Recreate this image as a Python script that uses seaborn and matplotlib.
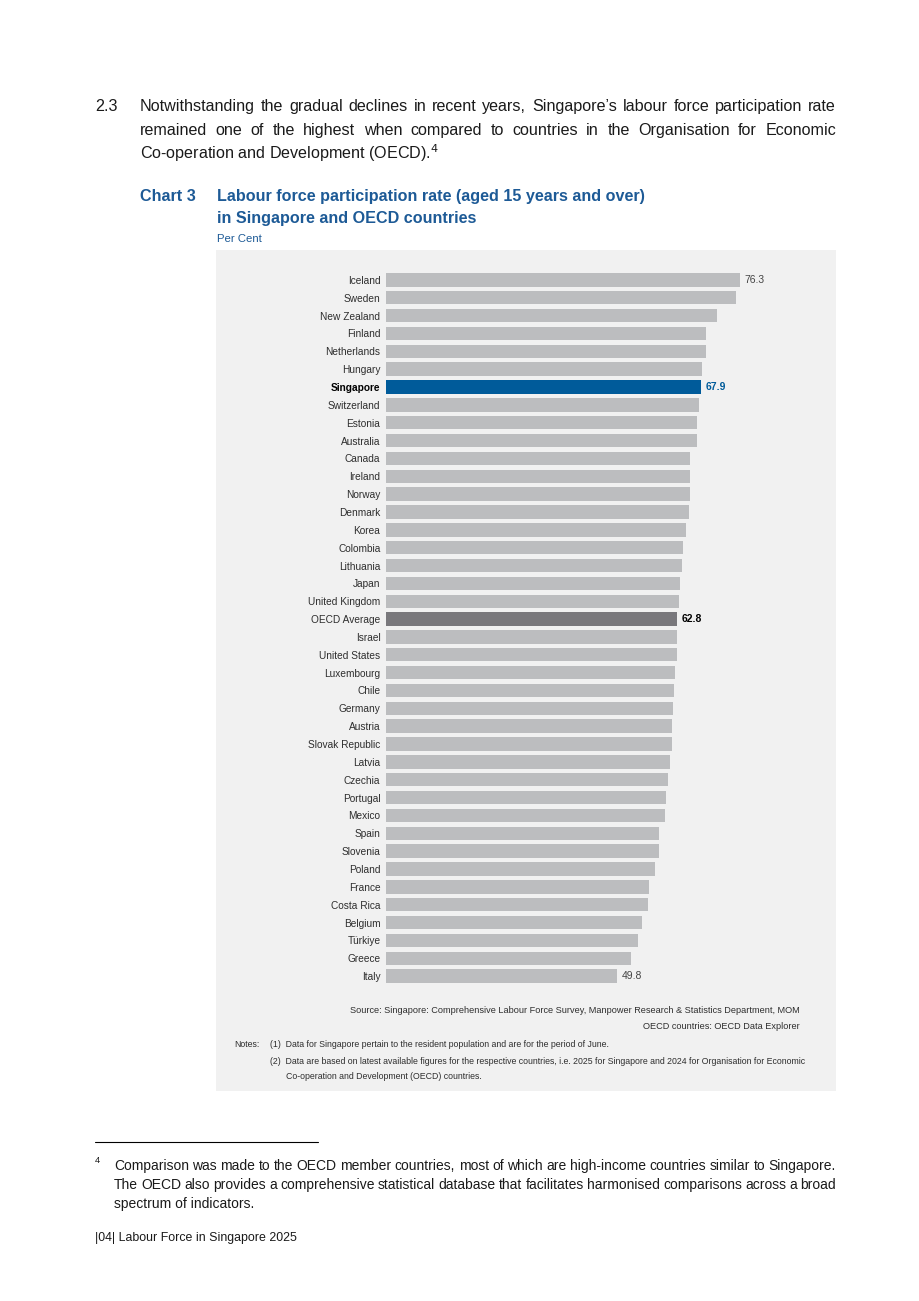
import matplotlib
matplotlib.use("Agg")
import matplotlib.pyplot as plt
import seaborn as sns
import pandas as pd
from matplotlib.patches import Rectangle
from matplotlib.lines import Line2D

# ========== DATA ==========
countries = [
    "Iceland", "Sweden", "New Zealand", "Finland", "Netherlands", "Hungary",
    "Singapore", "Switzerland", "Estonia", "Australia", "Canada", "Ireland",
    "Norway", "Denmark", "Korea", "Colombia", "Lithuania", "Japan",
    "United Kingdom", "OECD Average", "Israel", "United States", "Luxembourg",
    "Chile", "Germany", "Austria", "Slovak Republic", "Latvia", "Czechia",
    "Portugal", "Mexico", "Spain", "Slovenia", "Poland", "France",
    "Costa Rica", "Belgium", "Türkiye", "Greece", "Italy",
]
rates = [
    76.3, 75.4, 71.4, 69.0, 69.0, 68.1,
    67.9, 67.5, 67.0, 67.0, 65.6, 65.6,
    65.6, 65.3, 64.6, 64.0, 63.8, 63.4,
    63.2, 62.8, 62.7, 62.7, 62.4,
    62.1, 61.9, 61.6, 61.6, 61.2, 60.7,
    60.3, 60.2, 58.9, 58.8, 58.0, 56.7,
    56.6, 55.2, 54.3, 52.8, 49.8,
]
labelled = {"Iceland": "76.3", "Singapore": "67.9", "OECD Average": "62.8", "Italy": "49.8"}

GREY = "#bcbdbf"
BLUE = "#005b9a"
DARK = "#79787c"
TITLE_BLUE = "#1d5a96"
PANEL = "#f1f1f1"
TEXT = "#1a1a1a"
CHART_TEXT = "#2e2e2e"

df = pd.DataFrame({"country": countries, "rate": rates})
df["group"] = df["country"].map(
    lambda c: "sg" if c == "Singapore" else ("oecd" if c == "OECD Average" else "other"))

W, H = 920, 1301
sns.set_style("white")
plt.rcParams["font.family"] = ["Liberation Sans", "DejaVu Sans"]

fig = plt.figure(figsize=(W / 100, H / 100), dpi=100)
fig.patch.set_facecolor("white")


def px(x, y):
    return x / W, 1 - y / H


# grey panel behind the chart
fig.patches.append(Rectangle(px(216, 1091), 620 / W, 841 / H, transform=fig.transFigure,
                             facecolor=PANEL, edgecolor="none", zorder=-5))

# ========== BAR CHART ==========
scale = 4.643  # px per percentage point
x0, x1 = 385.7, 820
top, bottom = 271, 985
ax = fig.add_axes([x0 / W, 1 - bottom / H, (x1 - x0) / W, (bottom - top) / H])
ax.set_facecolor("none")
sns.barplot(data=df, x="rate", y="country", hue="group", orient="h",
            palette={"other": GREY, "sg": BLUE, "oecd": DARK},
            width=0.75, dodge=False, legend=False, saturation=1, linewidth=0, ax=ax)
ax.set_xlim(0, (x1 - x0) / scale)
ax.set_ylim(len(countries) - 0.5, -0.5)
ax.set_xlabel("")
ax.set_ylabel("")
ax.set_xticks([])
sns.despine(ax=ax, left=True, bottom=True)
ax.tick_params(axis="y", length=0, pad=3.8, labelsize=7.3, labelcolor=CHART_TEXT)
for lbl in ax.get_yticklabels():
    if lbl.get_text() == "Singapore":
        lbl.set_fontweight("bold")
        lbl.set_color("black")

for i, (c, v) in enumerate(zip(countries, rates)):
    if c in labelled:
        color = BLUE if c == "Singapore" else ("black" if c == "OECD Average" else "#444444")
        weight = "bold" if c in ("Singapore", "OECD Average") else "normal"
        ax.text(v + 1.0, i, labelled[c], va="center", ha="left", fontsize=7.5,
                color=color, fontweight=weight)

# ========== PAGE TEXT ==========
renderer = fig.canvas.get_renderer()


def base(y, size):
    # turn a visual text centre (px) into a baseline position
    return y + 0.36 * size * 100 / 72


def put(x, y, s, size, **kw):
    kw.setdefault("color", TEXT)
    return fig.text(*px(x, base(y, size)), s, fontsize=size, va="baseline", **kw)


def justified(line, xa, xb, y, size):
    words = line.split()
    objs = [put(xa, y, w, size) for w in words]
    widths = [o.get_window_extent(renderer).width for o in objs]
    gap = ((xb - xa) - sum(widths)) / (len(words) - 1)
    x = xa
    for o, w in zip(objs, widths):
        o.set_position(px(x, base(y, size)))
        x += w + gap


body = 11.6
put(95, 105, "2.3", body)
justified("Notwithstanding the gradual declines in recent years, Singapore’s labour force participation rate",
          140, 836, 105, body)
justified("remained one of the highest when compared to countries in the Organisation for Economic",
          140, 836, 129, body)
put(140, 153, r"Co-operation and Development (OECD).$^{4}$", body)

title = 11.6
put(140, 195, "Chart 3", title, color=TITLE_BLUE, fontweight="bold")
put(217, 195, "Labour force participation rate (aged 15 years and over)", title,
    color=TITLE_BLUE, fontweight="bold")
put(217, 217, "in Singapore and OECD countries", title, color=TITLE_BLUE, fontweight="bold")
put(217, 238, "Per Cent", 8.2, color=TITLE_BLUE)

src = 6.6
put(800, 1010, "Source: Singapore: Comprehensive Labour Force Survey, Manpower Research & Statistics Department, MOM",
    src, color=CHART_TEXT, ha="right")
put(800, 1026, "OECD countries: OECD Data Explorer", src, color=CHART_TEXT, ha="right")
small = 6.3
put(234, 1044, "Notes:", small, color=CHART_TEXT)
put(270, 1044, "(1)  Data for Singapore pertain to the resident population and are for the period of June.",
    small, color=CHART_TEXT)
put(270, 1061, "(2)  Data are based on latest available figures for the respective countries, i.e. 2025 for Singapore and 2024 for Organisation for Economic",
    small, color=CHART_TEXT)
put(286, 1076, "Co-operation and Development (OECD) countries.", small, color=CHART_TEXT)

# footnote
fig.add_artist(Line2D([95 / W, 318 / W], [1 - 1142 / H] * 2, transform=fig.transFigure,
                      color="black", linewidth=0.8))
foot = 10.0
put(95, 1160, "4", 6.8)
justified("Comparison was made to the OECD member countries, most of which are high-income countries similar to Singapore.",
          114, 836, 1165, foot)
justified("The OECD also provides a comprehensive statistical database that facilitates harmonised comparisons across a broad",
          114, 836, 1184, foot)
put(114, 1203, "spectrum of indicators.", foot)

put(95, 1237, "|04| Labour Force in Singapore 2025", 8.9)

fig.savefig("out.png", dpi=100, facecolor="white")
